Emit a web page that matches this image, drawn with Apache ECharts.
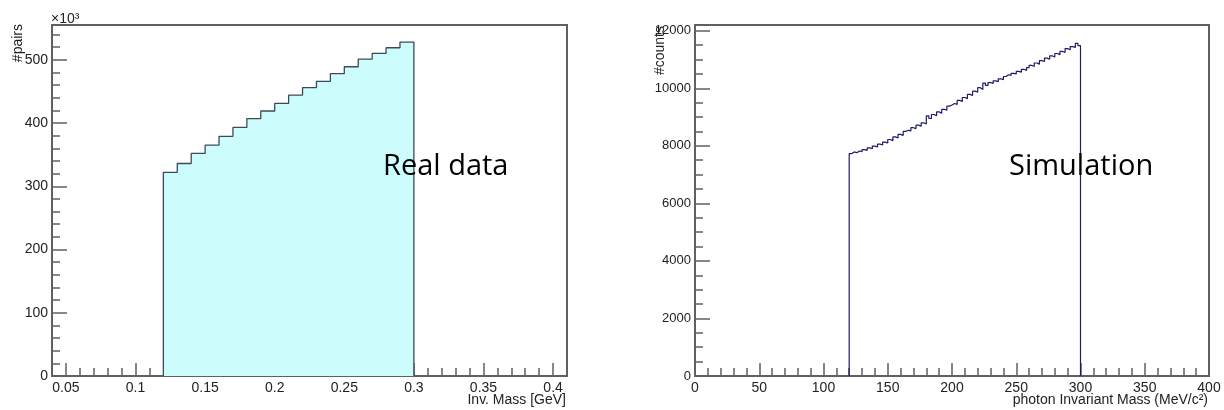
<!DOCTYPE html>
<html lang="en">
<head>
  <meta charset="UTF-8">
  <title>Real data vs Simulation</title>
  <script src="https://cdn.jsdelivr.net/npm/echarts@6/dist/echarts.min.js"></script>
  <style>
    body { margin: 0; background: #fff; }
  </style>
</head>
<body>
  <div id="chart" style="width: 1224px; height: 410px"></div>

  <script>
    // real data histogram: bins of 0.01 GeV from 0.12, counts in units of 10^3
    const realLow = 0.12
    const realWidth = 0.01
    const realPairs = [322, 336, 352, 365, 379, 393, 407, 419, 431, 444, 456, 466, 478, 489, 501, 510, 519, 528]

    // simulation histogram: bins of 2 MeV from 120
    const simLow = 120
    const simWidth = 2
    const simCounts = [
      7730, 7790, 7760, 7820, 7800, 7870, 7840, 7930, 7900, 7990,
      7960, 8060, 8030, 8130, 8100, 8220, 8180, 8310, 8270, 8400,
      8360, 8500, 8540, 8520, 8630, 8600, 8720, 8680, 8800, 8760,
      9040, 8950, 9090, 9050, 9180, 9130, 9270, 9240, 9380, 9420,
      9470, 9440, 9580, 9540, 9680, 9640, 9790, 9750, 9900, 9860,
      10020, 9960, 10180, 10100, 10200, 10170, 10260, 10230, 10330, 10300,
      10410, 10470, 10450, 10520, 10500, 10590, 10560, 10660, 10620, 10720,
      10800, 10760, 10880, 10840, 10960, 10930, 11050, 11010, 11130, 11090,
      11210, 11170, 11280, 11250, 11380, 11340, 11450, 11420, 11560, 11480
    ]

    // axis ticks
    const realXTicks = [0.05, 0.1, 0.15, 0.2, 0.25, 0.3, 0.35, 0.4]
    const realYTicks = [0, 100, 200, 300, 400, 500]
    const simXTicks = [0, 50, 100, 150, 200, 250, 300, 350, 400]
    const simYTicks = [0, 2000, 4000, 6000, 8000, 10000, 12000]

    const axisColor = '#606060'
    const textColor = '#222'
    const font = 'Liberation Sans'

    function steps(from, to, step) {
      const out = []
      for (let i = Math.round(from / step); i * step <= to + 1e-9; i++) {
        out.push(+(i * step).toFixed(4))
      }
      return out
    }

    function histPoints(low, width, counts) {
      const pts = [[low, 0]]
      counts.forEach((c, i) => {
        pts.push([+(low + i * width).toFixed(4), c])
        pts.push([+(low + (i + 1) * width).toFixed(4), c])
      })
      pts.push([+(low + counts.length * width).toFixed(4), 0])
      return pts
    }

    const plain = v => String(v)

    function majorX(grid, min, max, ticks) {
      return {
        type: 'value', gridIndex: grid, min: min, max: max, position: 'bottom',
        axisLine: { show: true, lineStyle: { color: axisColor, width: 2 } },
        axisTick: { show: true, inside: true, length: 13, customValues: ticks, lineStyle: { color: axisColor, width: 1.5 } },
        axisLabel: { show: true, customValues: ticks, formatter: plain, margin: 5, color: textColor, fontFamily: font, fontSize: 14 },
        splitLine: { show: false }
      }
    }
    function minorX(grid, min, max, ticks) {
      return {
        type: 'value', gridIndex: grid, min: min, max: max, position: 'bottom',
        axisLine: { show: false },
        axisTick: { show: true, inside: true, length: 8, customValues: ticks, lineStyle: { color: axisColor, width: 1.5 } },
        axisLabel: { show: false },
        splitLine: { show: false }
      }
    }
    function majorY(grid, min, max, ticks, size) {
      return {
        type: 'value', gridIndex: grid, min: min, max: max, position: 'left',
        axisLine: { show: true, lineStyle: { color: axisColor, width: 2 } },
        axisTick: { show: true, inside: true, length: 15, customValues: ticks, lineStyle: { color: axisColor, width: 1.5 } },
        axisLabel: { show: true, customValues: ticks, formatter: plain, margin: 4, color: textColor, fontFamily: font, fontSize: size },
        splitLine: { show: false }
      }
    }
    function minorY(grid, min, max, ticks) {
      return {
        type: 'value', gridIndex: grid, min: min, max: max, position: 'left',
        axisLine: { show: false },
        axisTick: { show: true, inside: true, length: 8, customValues: ticks, lineStyle: { color: axisColor, width: 1.5 } },
        axisLabel: { show: false },
        splitLine: { show: false }
      }
    }

    const chart = echarts.init(document.getElementById('chart'))

    const option = {
      animation: false,
      backgroundColor: '#fff',
      grid: [
        { left: 52, top: 25, width: 515, height: 351, show: true, borderColor: axisColor, borderWidth: 2, backgroundColor: 'transparent' },
        { left: 695, top: 25, width: 514, height: 351, show: true, borderColor: axisColor, borderWidth: 2, backgroundColor: 'transparent' }
      ],
      xAxis: [
        majorX(0, 0.04, 0.41, realXTicks),
        minorX(0, 0.04, 0.41, steps(0.05, 0.41, 0.01)),
        majorX(1, 0, 400, simXTicks),
        minorX(1, 0, 400, steps(0, 400, 10))
      ],
      yAxis: [
        majorY(0, 0, 555, realYTicks, 14),
        minorY(0, 0, 555, steps(0, 555, 20)),
        majorY(1, 0, 12200, simYTicks, 13),
        minorY(1, 0, 12200, steps(0, 12200, 500))
      ],
      series: [
        {
          name: 'Real data',
          type: 'line',
          xAxisIndex: 0,
          yAxisIndex: 0,
          symbol: 'none',
          lineStyle: { color: '#3c4a58', width: 1.3 },
          areaStyle: { color: '#ccfcfc', opacity: 1 },
          data: histPoints(realLow, realWidth, realPairs)
        },
        {
          name: 'Simulation',
          type: 'line',
          xAxisIndex: 2,
          yAxisIndex: 2,
          symbol: 'none',
          lineStyle: { color: '#1c1c68', width: 1.2 },
          data: histPoints(simLow, simWidth, simCounts)
        }
      ],
      graphic: [
        { type: 'text', z: 100, x: 18, y: 24, rotation: Math.PI / 2, style: { text: '#pairs', fill: textColor, font: '14px "Liberation Sans"', align: 'right', verticalAlign: 'middle' } },
        { type: 'text', z: 100, x: 51, y: 26, style: { text: '×10³', fill: textColor, font: '14px "Liberation Sans"', align: 'left', verticalAlign: 'bottom' } },
        { type: 'text', z: 100, x: 566, y: 393, style: { text: 'Inv. Mass [GeV]', fill: textColor, font: '14px "Liberation Sans"', align: 'right', verticalAlign: 'top' } },
        { type: 'text', z: 100, x: 660, y: 26, rotation: Math.PI / 2, style: { text: '#counts', fill: textColor, font: '14px "Liberation Sans"', align: 'right', verticalAlign: 'middle' } },
        { type: 'text', z: 100, x: 1208, y: 393, style: { text: 'photon Invariant Mass (MeV/c²)', fill: textColor, font: '14px "Liberation Sans"', align: 'right', verticalAlign: 'top' } },
        { type: 'text', z: 100, x: 383, y: 167, style: { text: 'Real data', fill: '#000', font: '29px "Open Sans"', align: 'left', verticalAlign: 'middle' } },
        { type: 'text', z: 100, x: 1009, y: 167, style: { text: 'Simulation', fill: '#000', font: '29px "Open Sans"', align: 'left', verticalAlign: 'middle' } }
      ]
    }

    chart.setOption(option)
  </script>
</body>
</html>
